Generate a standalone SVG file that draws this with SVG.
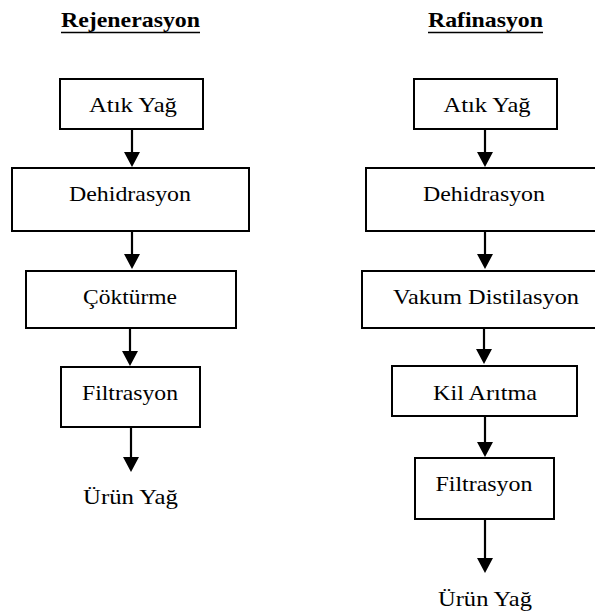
<svg xmlns="http://www.w3.org/2000/svg" width="595" height="615" viewBox="0 0 595 615" font-family="'Liberation Serif', 'Times New Roman', Times, serif">
<defs>
<style>
text{font-family:'Liberation Serif','Times New Roman',Times,serif;font-size:21px;fill:#000;text-anchor:middle}
.title{font-weight:bold}
.box{fill:#fff;stroke:#000;stroke-width:2}
.conn line{stroke:#000;stroke-width:2.2}
.ul{stroke:#000;stroke-width:1.6}
</style>
<marker id="ah" markerUnits="userSpaceOnUse" viewBox="0 0 15 16" markerWidth="15" markerHeight="16" refX="0" refY="8" orient="auto">
<path d="M0,0 L15,8 L0,16 z" fill="#000"/>
</marker>
</defs>
<rect width="595" height="615" fill="#fff"/>

<g id="title-left">
<text class="title" x="130.5" y="27" textLength="139" lengthAdjust="spacingAndGlyphs">Rejenerasyon</text>
<line class="ul" x1="61" y1="32.5" x2="200" y2="32.5"/>
</g>
<g id="title-right">
<text class="title" x="485.5" y="27" textLength="115" lengthAdjust="spacingAndGlyphs">Rafinasyon</text>
<line class="ul" x1="428" y1="32.5" x2="543" y2="32.5"/>
</g>

<g class="conn" id="connectors">
<line x1="132" y1="129" x2="132" y2="152" marker-end="url(#ah)"/>
<line x1="132" y1="231" x2="132" y2="254" marker-end="url(#ah)"/>
<line x1="130" y1="328" x2="130" y2="351" marker-end="url(#ah)"/>
<line x1="131" y1="427" x2="131" y2="457" marker-end="url(#ah)"/>
<line x1="485" y1="129" x2="485" y2="152" marker-end="url(#ah)"/>
<line x1="485" y1="231" x2="485" y2="254" marker-end="url(#ah)"/>
<line x1="484" y1="328" x2="484" y2="349" marker-end="url(#ah)"/>
<line x1="485" y1="416" x2="485" y2="442" marker-end="url(#ah)"/>
<line x1="485" y1="519" x2="485" y2="558" marker-end="url(#ah)"/>
</g>

<g id="l-atik">
<rect class="box" x="60" y="79" width="143" height="50"/>
<text x="133" y="112" textLength="88" lengthAdjust="spacingAndGlyphs">Atık Yağ</text>
</g>
<g id="l-dehidrasyon">
<rect class="box" x="12" y="168" width="237" height="63"/>
<text x="130" y="201" textLength="122" lengthAdjust="spacingAndGlyphs">Dehidrasyon</text>
</g>
<g id="l-cokturme">
<rect class="box" x="26" y="271" width="210" height="57"/>
<text x="130" y="304" textLength="94" lengthAdjust="spacingAndGlyphs">Çöktürme</text>
</g>
<g id="l-filtrasyon">
<rect class="box" x="61" y="367" width="139" height="60"/>
<text x="130" y="400" textLength="96" lengthAdjust="spacingAndGlyphs">Filtrasyon</text>
</g>
<g id="l-urun">
<text x="130.5" y="504" textLength="95" lengthAdjust="spacingAndGlyphs">Ürün Yağ</text>
</g>

<g id="r-atik">
<rect class="box" x="414" y="79" width="143" height="50"/>
<text x="487" y="112" textLength="87" lengthAdjust="spacingAndGlyphs">Atık Yağ</text>
</g>
<g id="r-dehidrasyon">
<rect class="box" x="366" y="168" width="240" height="63"/>
<text x="484" y="201" textLength="122" lengthAdjust="spacingAndGlyphs">Dehidrasyon</text>
</g>
<g id="r-vakum">
<rect class="box" x="362" y="271" width="240" height="57"/>
<text x="486" y="304" textLength="186" lengthAdjust="spacingAndGlyphs">Vakum Distilasyon</text>
</g>
<g id="r-kil">
<rect class="box" x="392" y="366" width="185" height="50"/>
<text x="485" y="400" textLength="104" lengthAdjust="spacingAndGlyphs">Kil Arıtma</text>
</g>
<g id="r-filtrasyon">
<rect class="box" x="415" y="458" width="139" height="61"/>
<text x="484" y="491" textLength="97" lengthAdjust="spacingAndGlyphs">Filtrasyon</text>
</g>
<g id="r-urun">
<text x="485" y="606" textLength="94" lengthAdjust="spacingAndGlyphs">Ürün Yağ</text>
</g>
</svg>
